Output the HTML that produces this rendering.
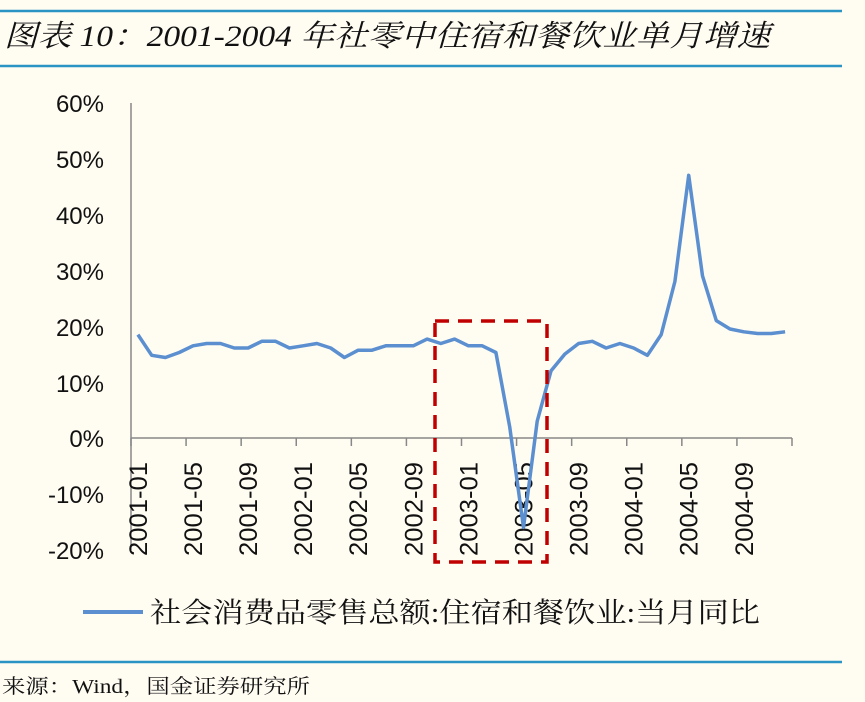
<!DOCTYPE html>
<html><head><meta charset="utf-8"><style>
body{margin:0;background:#fffcf2;}
svg{display:block}
</style></head><body>
<svg id="s" width="865" height="702" xmlns="http://www.w3.org/2000/svg">
<rect width="865" height="702" fill="#fffcf2"/>
<line x1="0" y1="11" x2="842" y2="11" stroke="#2a95c4" stroke-width="2.5"/>
<line x1="0" y1="66" x2="842" y2="66" stroke="#2a95c4" stroke-width="2.5"/>
<text x="4" y="46" font-family="'Liberation Serif','Noto Serif CJK SC',serif" font-style="italic" font-size="30" fill="#111" textLength="766" lengthAdjust="spacingAndGlyphs">图表 10：2001-2004 年社零中住宿和餐饮业单月增速</text>
<g font-family="'Liberation Sans','DejaVu Sans',sans-serif" font-size="24" fill="#111" text-anchor="end">
<text x="104" y="112">60%</text><text x="104" y="168">50%</text><text x="104" y="224">40%</text>
<text x="104" y="280">30%</text><text x="104" y="336">20%</text><text x="104" y="392">10%</text>
<text x="104" y="447">0%</text><text x="104" y="503">-10%</text><text x="104" y="559">-20%</text>
</g>
<g stroke="#888" stroke-width="1.5" id="ax">
<line x1="131" y1="103" x2="131" y2="550"/>
<line x1="131" y1="438" x2="792" y2="438"/>
</g>
<g id="xl" font-family="'Liberation Sans','DejaVu Sans',sans-serif" font-size="25" fill="#111"></g>
<polyline id="pl" fill="none" stroke="#5b8fd0" stroke-width="3.5" stroke-linejoin="round"/>
<rect x="435" y="321" width="112" height="241" fill="none" stroke="#c00000" stroke-width="3.5" stroke-dasharray="14,9"/>
<line x1="83" y1="612" x2="143" y2="612" stroke="#5b8fd0" stroke-width="4"/>
<text x="150" y="622" font-family="'Liberation Serif','Noto Serif CJK SC',serif" font-size="28" fill="#111" textLength="610" lengthAdjust="spacingAndGlyphs">社会消费品零售总额:住宿和餐饮业:当月同比</text>
<line x1="0" y1="662" x2="842" y2="662" stroke="#2a95c4" stroke-width="2.5"/>
<text x="2" y="693" font-family="'Liberation Serif','Noto Serif CJK SC',serif" font-size="20" fill="#111" textLength="308" lengthAdjust="spacingAndGlyphs">来源：Wind，国金证券研究所</text>
</svg>
<script>
var v=[18.5,14.8,14.4,15.3,16.5,16.9,16.9,16.1,16.1,17.3,17.3,16.1,
16.5,16.9,16.1,14.4,15.7,15.7,16.5,16.5,16.5,17.7,16.9,17.7,
16.5,16.5,15.3,2,-16,3,12,15,16.9,17.3,16.1,16.9,
16.1,14.8,18.5,28,47,29,21,19.5,19,18.7,18.7,19];
var w=661/48,p=[];
for(var i=0;i<48;i++)p.push((131+w*(i+0.5)).toFixed(1)+","+(438-v[i]*5.59).toFixed(1));
document.getElementById("pl").setAttribute("points",p.join(" "));
var ax=document.getElementById("ax"),xl=document.getElementById("xl"),ns="http://www.w3.org/2000/svg";
var labs=["2001-01","2001-05","2001-09","2002-01","2002-05","2002-09","2003-01","2003-05","2003-09","2004-01","2004-05","2004-09"];
for(var k=0;k<=12;k++){var x=131+w*4*k;var l=document.createElementNS(ns,"line");
l.setAttribute("x1",x);l.setAttribute("x2",x);l.setAttribute("y1",438);l.setAttribute("y2",446);ax.appendChild(l);}
for(var k=0;k<12;k++){var cx=131+w*(4*k+0.5)+9;var t=document.createElementNS(ns,"text");
t.setAttribute("transform","translate("+cx+",556) rotate(-90)");t.setAttribute("textLength","94");t.setAttribute("lengthAdjust","spacingAndGlyphs");t.textContent=labs[k];xl.appendChild(t);}
</script>
</body></html>
